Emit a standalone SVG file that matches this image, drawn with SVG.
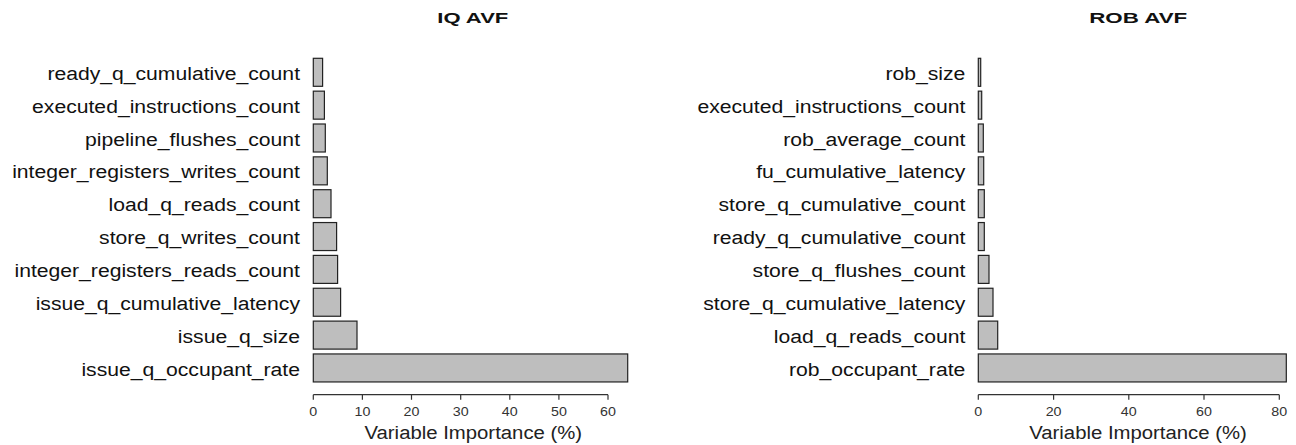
<svg xmlns="http://www.w3.org/2000/svg" width="1296" height="445" viewBox="0 0 1296 445">
  <style>
    .bar { fill: #bebebe; stroke: #222; stroke-width: 1.2; }
    .lbl { font-family: "Liberation Sans", Arial, sans-serif; font-size: 18px; fill: #111; text-anchor: end; }
    .title { font-family: "Liberation Sans", Arial, sans-serif; font-size: 14.5px; font-weight: bold; fill: #111; text-anchor: middle; }
    .tick { font-family: "Liberation Sans", Arial, sans-serif; font-size: 12px; fill: #333; text-anchor: middle; }
    .axtitle { font-family: "Liberation Sans", Arial, sans-serif; font-size: 18px; fill: #222; text-anchor: middle; }
    .axis { stroke: #333; stroke-width: 1.2; fill: none; }
  </style>
  <rect width="1296" height="445" fill="#fff"/>

  <!-- Left panel: IQ AVF -->
  <g id="iq-panel">
    <text class="title" x="472.8" y="22.7" textLength="71" lengthAdjust="spacingAndGlyphs">IQ AVF</text>
    <g id="iq-labels">
      <text class="lbl" transform="translate(300,79.9) scale(1.175,1)">ready_q_cumulative_count</text>
      <text class="lbl" transform="translate(300,112.75) scale(1.175,1)">executed_instructions_count</text>
      <text class="lbl" transform="translate(300,145.6) scale(1.175,1)">pipeline_flushes_count</text>
      <text class="lbl" transform="translate(300,178.45) scale(1.175,1)">integer_registers_writes_count</text>
      <text class="lbl" transform="translate(300,211.3) scale(1.175,1)">load_q_reads_count</text>
      <text class="lbl" transform="translate(300,244.15) scale(1.175,1)">store_q_writes_count</text>
      <text class="lbl" transform="translate(300,277) scale(1.175,1)">integer_registers_reads_count</text>
      <text class="lbl" transform="translate(300,309.85) scale(1.175,1)">issue_q_cumulative_latency</text>
      <text class="lbl" transform="translate(300,342.7) scale(1.175,1)">issue_q_size</text>
      <text class="lbl" transform="translate(300,375.55) scale(1.175,1)">issue_q_occupant_rate</text>
    </g>
    <g id="iq-bars">
      <rect class="bar" x="313.3" y="58.3" width="9.3" height="28"/>
      <rect class="bar" x="313.3" y="91.15" width="11.1" height="28"/>
      <rect class="bar" x="313.3" y="124" width="12" height="28"/>
      <rect class="bar" x="313.3" y="156.85" width="14" height="28"/>
      <rect class="bar" x="313.3" y="189.7" width="17.7" height="28"/>
      <rect class="bar" x="313.3" y="222.55" width="23.3" height="28"/>
      <rect class="bar" x="313.3" y="255.4" width="24.3" height="28"/>
      <rect class="bar" x="313.3" y="288.25" width="27.3" height="28"/>
      <rect class="bar" x="313.3" y="321.1" width="43.7" height="28"/>
      <rect class="bar" x="313.3" y="353.95" width="314.4" height="28"/>
    </g>
    <g id="iq-axis">
      <path class="axis" d="M313.3,394.7H608M313.3,394.7v5M362.4,394.7v5M411.5,394.7v5M460.7,394.7v5M509.8,394.7v5M558.9,394.7v5M608,394.7v5"/>
      <text class="tick" transform="translate(313.3,416) scale(1.19,1)">0</text>
      <text class="tick" transform="translate(362.4,416) scale(1.19,1)">10</text>
      <text class="tick" transform="translate(411.5,416) scale(1.19,1)">20</text>
      <text class="tick" transform="translate(460.7,416) scale(1.19,1)">30</text>
      <text class="tick" transform="translate(509.8,416) scale(1.19,1)">40</text>
      <text class="tick" transform="translate(558.9,416) scale(1.19,1)">50</text>
      <text class="tick" transform="translate(608,416) scale(1.19,1)">60</text>
      <text class="axtitle" transform="translate(473.3,438.5) scale(1.13,1)">Variable Importance (%)</text>
    </g>
  </g>

  <!-- Right panel: ROB AVF -->
  <g id="rob-panel">
    <text class="title" x="1138.2" y="22.7" textLength="98" lengthAdjust="spacingAndGlyphs">ROB AVF</text>
    <g id="rob-labels">
      <text class="lbl" transform="translate(965.3,79.9) scale(1.175,1)">rob_size</text>
      <text class="lbl" transform="translate(965.3,112.75) scale(1.175,1)">executed_instructions_count</text>
      <text class="lbl" transform="translate(965.3,145.6) scale(1.175,1)">rob_average_count</text>
      <text class="lbl" transform="translate(965.3,178.45) scale(1.175,1)">fu_cumulative_latency</text>
      <text class="lbl" transform="translate(965.3,211.3) scale(1.175,1)">store_q_cumulative_count</text>
      <text class="lbl" transform="translate(965.3,244.15) scale(1.175,1)">ready_q_cumulative_count</text>
      <text class="lbl" transform="translate(965.3,277) scale(1.175,1)">store_q_flushes_count</text>
      <text class="lbl" transform="translate(965.3,309.85) scale(1.175,1)">store_q_cumulative_latency</text>
      <text class="lbl" transform="translate(965.3,342.7) scale(1.175,1)">load_q_reads_count</text>
      <text class="lbl" transform="translate(965.3,375.55) scale(1.175,1)">rob_occupant_rate</text>
    </g>
    <g id="rob-bars">
      <rect class="bar" x="978.3" y="58.3" width="2.4" height="28"/>
      <rect class="bar" x="978.3" y="91.15" width="3.4" height="28"/>
      <rect class="bar" x="978.3" y="124" width="5" height="28"/>
      <rect class="bar" x="978.3" y="156.85" width="5.4" height="28"/>
      <rect class="bar" x="978.3" y="189.7" width="6" height="28"/>
      <rect class="bar" x="978.3" y="222.55" width="6" height="28"/>
      <rect class="bar" x="978.3" y="255.4" width="10.7" height="28"/>
      <rect class="bar" x="978.3" y="288.25" width="14.7" height="28"/>
      <rect class="bar" x="978.3" y="321.1" width="19.4" height="28"/>
      <rect class="bar" x="978.3" y="353.95" width="308" height="28"/>
    </g>
    <g id="rob-axis">
      <path class="axis" d="M978.3,394.7H1279.3M978.3,394.7v5M1053.6,394.7v5M1128.8,394.7v5M1204,394.7v5M1279.3,394.7v5"/>
      <text class="tick" transform="translate(978.3,416) scale(1.19,1)">0</text>
      <text class="tick" transform="translate(1053.6,416) scale(1.19,1)">20</text>
      <text class="tick" transform="translate(1128.8,416) scale(1.19,1)">40</text>
      <text class="tick" transform="translate(1204,416) scale(1.19,1)">60</text>
      <text class="tick" transform="translate(1279.3,416) scale(1.19,1)">80</text>
      <text class="axtitle" transform="translate(1138,438.5) scale(1.13,1)">Variable Importance (%)</text>
    </g>
  </g>
</svg>
